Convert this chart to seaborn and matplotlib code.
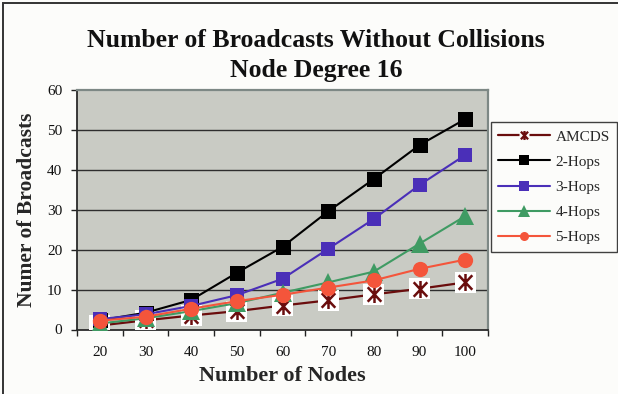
import numpy as np
import pandas as pd
import seaborn as sns
import matplotlib
matplotlib.use("Agg")
import matplotlib.pyplot as plt
from matplotlib.path import Path
from matplotlib.lines import Line2D
from matplotlib.legend_handler import HandlerTuple
from matplotlib.patches import Rectangle

# ---- data -------------------------------------------------------------
nodes = [20, 30, 40, 50, 60, 70, 80, 90, 100]
amcds = [1.0, 2.3, 3.5, 4.6, 6.0, 7.3, 8.8, 10.2, 11.8]
hops2 = [2.3, 4.2, 7.4, 14.2, 20.7, 29.6, 37.7, 46.2, 52.7]
hops3 = [2.6, 3.8, 5.9, 8.6, 12.7, 20.2, 27.7, 36.2, 43.7]
hops4 = [1.5, 2.8, 4.6, 6.6, 9.2, 11.8, 14.5, 21.5, 28.4]
hops5 = [2.2, 3.2, 5.2, 7.1, 8.7, 10.5, 12.3, 15.2, 17.5]

series_names = ["AMCDS", "2-Hops", "3-Hops", "4-Hops", "5-Hops"]
series_values = [amcds, hops2, hops3, hops4, hops5]
y_ticks = [0, 10, 20, 30, 40, 50, 60]

title_text = "Number of Broadcasts Without Collisions\nNode Degree 16"
x_label = "Number of Nodes"
y_label = "Numer of Broadcasts"

# ---- styling ----------------------------------------------------------
colors = {
    "AMCDS": "#6a0d0d",
    "2-Hops": "#000000",
    "3-Hops": "#4a2fb8",
    "4-Hops": "#3f9b63",
    "5-Hops": "#f4553b",
}
markers = {"2-Hops": "s", "3-Hops": "s", "4-Hops": "^", "5-Hops": "o"}
marker_sizes = {"2-Hops": 10.8, "3-Hops": 10.5, "4-Hops": 12.5, "5-Hops": 11.0}

# asterisk (X plus vertical bar) marker
star_path = Path(
    [(0, -1), (0, 1), (-0.8, -0.85), (0.8, 0.85), (-0.8, 0.85), (0.8, -0.85)],
    [Path.MOVETO, Path.LINETO, Path.MOVETO, Path.LINETO, Path.MOVETO, Path.LINETO],
)

sns.set_theme(style="white")
plt.rcParams["font.family"] = ["Liberation Serif", "DejaVu Serif"]

df = pd.DataFrame({
    "series": np.repeat(series_names, len(nodes)),
    "nodes": np.tile(nodes, len(series_names)),
    "pos": np.tile(np.arange(len(nodes)), len(series_names)),
    "value": np.concatenate(series_values),
})

W, H = 618, 394
fig = plt.figure(figsize=(W / 100, H / 100), dpi=100)
fig.patch.set_facecolor("#fcfcfa")

ax = fig.add_axes([77 / W, 1 - 329.5 / H, (488 - 77) / W, (329.5 - 90) / H])
ax.set_facecolor("#c9cbc4")

# AMCDS: line, white marker background, asterisk on top
d = df[df.series == "AMCDS"]
sns.lineplot(data=d, x="pos", y="value", color=colors["AMCDS"], lw=1.6,
             sort=False, ax=ax, zorder=3, legend=False)
sns.scatterplot(data=d, x="pos", y="value", marker="s", s=230, color="white",
                edgecolor="none", linewidth=0, ax=ax, zorder=3.1, legend=False)
sns.scatterplot(data=d, x="pos", y="value", marker=star_path, s=150,
                color=colors["AMCDS"], edgecolor=colors["AMCDS"], linewidth=1.8,
                ax=ax, zorder=3.2, legend=False)

# hop series
for i, name in enumerate(series_names[1:]):
    d = df[df.series == name]
    sns.lineplot(data=d, x="pos", y="value", color=colors[name], lw=1.5,
                 marker=markers[name], markersize=marker_sizes[name],
                 markeredgewidth=0, sort=False, ax=ax, zorder=4 + i, legend=False)

# axes, ticks, grid
ax.set_xlim(-0.5, len(nodes) - 0.5)
ax.set_ylim(0, 60)
ax.set_yticks(y_ticks)
ax.set_yticklabels([str(v) for v in y_ticks], fontsize=11)
ax.set_xticks(np.arange(len(nodes) + 1) - 0.5)
ax.set_xticklabels([])
ax.set_xticks(np.arange(len(nodes)), minor=True)
ax.set_xticklabels([str(n) for n in nodes], minor=True, fontsize=11)
ax.tick_params(axis="x", which="major", direction="out", length=4.5, width=1,
               color="#222222", bottom=True)
ax.tick_params(axis="x", which="minor", length=0, pad=12, labelcolor="#111111")
ax.tick_params(axis="y", direction="out", length=4.5, width=1, color="#222222",
               left=True, pad=6, labelcolor="#111111")
for yv in y_ticks[1:-1]:
    ax.axhline(yv, color="#2e2e2e", lw=1.0, zorder=1)

for side in ("left", "bottom"):
    ax.spines[side].set_color("#2a2a2a")
    ax.spines[side].set_linewidth(1.3)
for side in ("top", "right"):
    ax.spines[side].set_color("#7d8885")
    ax.spines[side].set_linewidth(1.6)

ax.set_xlabel(x_label, fontsize=16, fontweight="bold", labelpad=5)
ax.set_ylabel(y_label, fontsize=15.5, fontweight="bold", labelpad=7)

fig.text(316 / W, 1 - 55.5 / H, title_text, ha="center", va="center",
         fontsize=18.5, fontweight="bold", linespacing=1.4, color="#111111")

# legend
handles = [(
    Line2D([], [], color=colors["AMCDS"], lw=1.6),
    Line2D([], [], ls="none", marker="s", ms=7, mfc="#fcfcfa", mec="none"),
    Line2D([], [], ls="none", marker=star_path, ms=6.5, mfc="none",
           mec=colors["AMCDS"], mew=1.6),
)]
for name in series_names[1:]:
    handles.append(Line2D([], [], color=colors[name], lw=1.5, marker=markers[name],
                          ms=6.5 if markers[name] != "^" else 8, mew=0))
leg = fig.legend(handles, series_names, loc="upper left",
                 bbox_to_anchor=(490.5 / W, 1 - 122.3 / H),
                 handler_map={tuple: HandlerTuple(ndivide=1, pad=0)},
                 fontsize=11, frameon=True, fancybox=False, shadow=False,
                 handlelength=3.4, handletextpad=0.35, labelspacing=0.75,
                 borderpad=0.5, borderaxespad=0)
leg.get_frame().set_edgecolor("#111111")
leg.get_frame().set_linewidth(1.0)
leg.get_frame().set_facecolor("#fcfcfa")

# outer chart border
fig.patches.append(Rectangle((3 / W, -0.1), 1.2, 1.1 - 3.5 / H, transform=fig.transFigure,
                             fill=False, edgecolor="#333333", lw=1.4, clip_on=False))

fig.savefig("out.png", dpi=100, facecolor=fig.get_facecolor())
